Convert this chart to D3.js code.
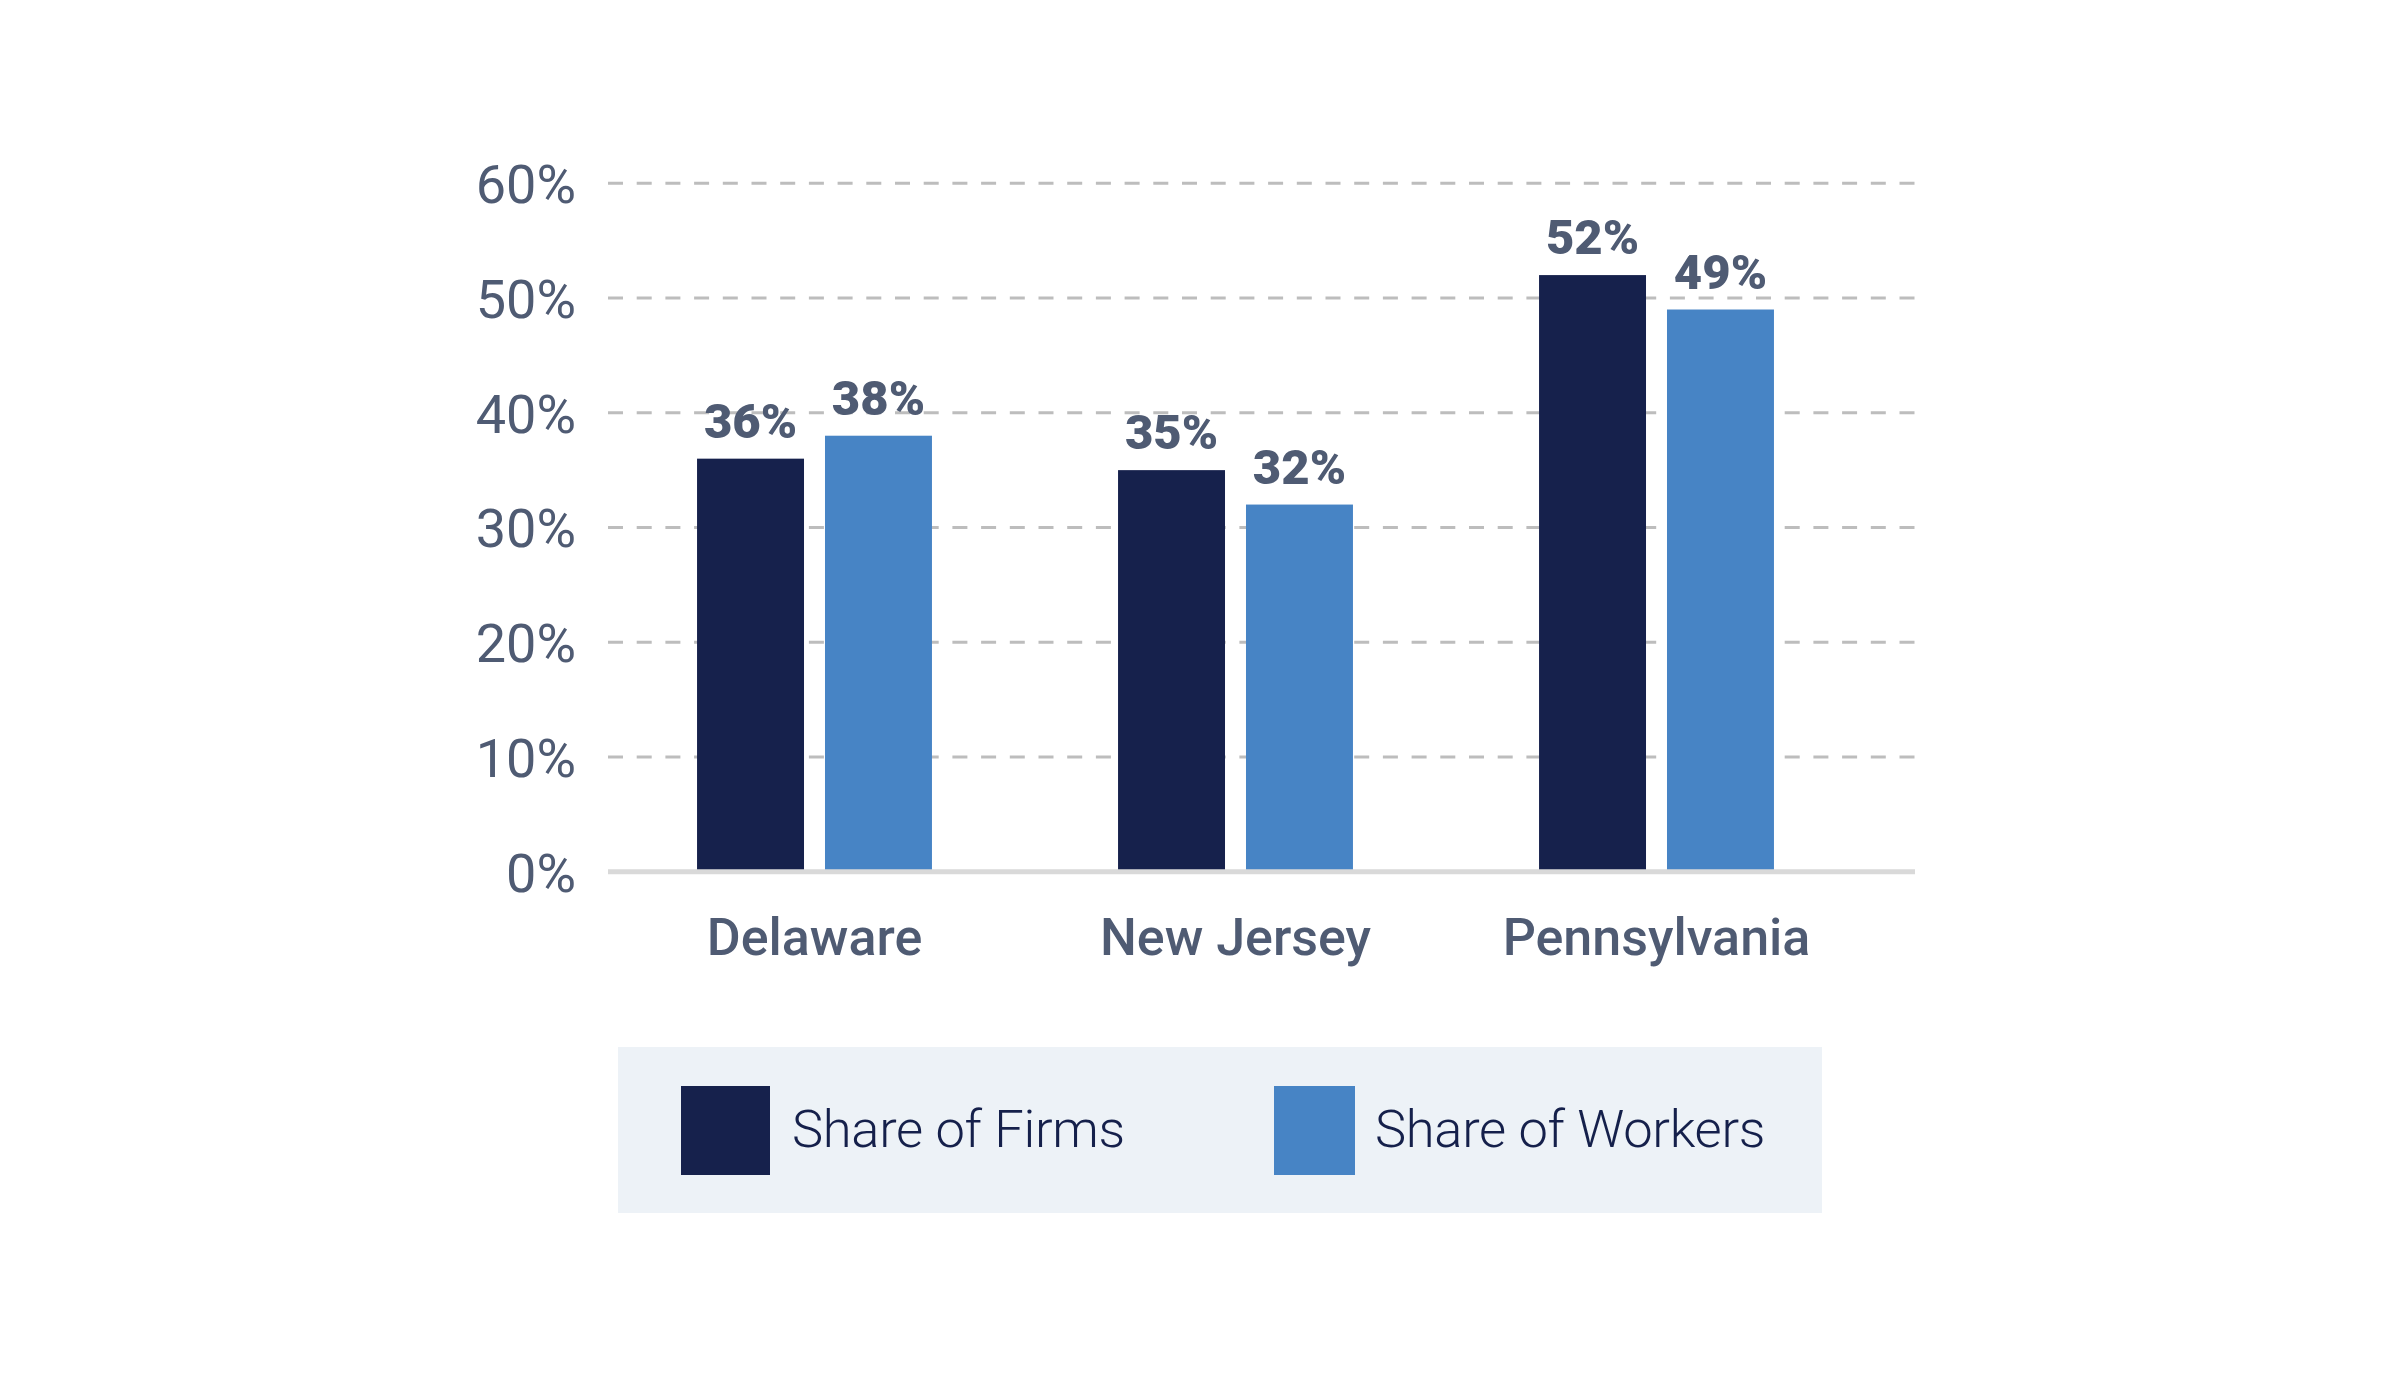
<!DOCTYPE html>
<html>
<head>
<meta charset="utf-8">
<script src="https://cdn.jsdelivr.net/npm/d3@7"></script>
<style>
  html, body { margin: 0; padding: 0; background: #ffffff; }
  svg { display: block; }
</style>
</head>
<body>
<svg id="chart" width="2390" height="1373"></svg>
<script>
// ---- data ----
const categories = ["Delaware", "New Jersey", "Pennsylvania"];
const seriesNames = ["Share of Firms", "Share of Workers"];
const shareOfFirms = [36, 35, 52];
const shareOfWorkers = [38, 32, 49];
const yTicks = [0, 10, 20, 30, 40, 50, 60];

// ---- layout ----
const W = 2390, H = 1373;
const plotLeft = 608, plotRight = 1915, plotTop = 183.3, plotBottom = 871.7;
const colors = ["#16214c", "#4784c5"];
const textColor = "#4f5b73";

const svg = d3.select("#chart");

const y = d3.scaleLinear().domain([0, 60]).range([plotBottom, plotTop]);
const x0 = d3.scaleBand().domain(categories).range([604, 1867])
  .paddingInner(0.442).paddingOuter(0.221);
const x1 = d3.scaleBand().domain(seriesNames).range([0, x0.bandwidth()])
  .paddingInner(0.164).paddingOuter(0);

// gridlines (dashed)
const grid = svg.append("g");
grid.selectAll("line").data(yTicks.filter(d => d > 0)).join("line")
  .attr("x1", plotLeft).attr("x2", plotRight)
  .attr("y1", d => y(d)).attr("y2", d => y(d))
  .attr("stroke", "#bdbdbd").attr("stroke-width", 3)
  .attr("stroke-dasharray", "15 13.7");

// y axis tick labels
const yAxis = d3.axisLeft(y).tickValues(yTicks).tickFormat(d => d + "%").tickSize(0).tickPadding(32);
const yg = svg.append("g").attr("transform", `translate(${plotLeft},0)`).call(yAxis);
yg.select(".domain").remove();
yg.selectAll("text")
  .attr("fill", textColor)
  .style("font-family", "Roboto, 'Open Sans', sans-serif")
  .style("font-size", "54px")
  .style("font-weight", 400)
  .attr("dy", "0.36em");

// bars
const rows = categories.map((c, i) => ({
  cat: c,
  vals: [
    { key: seriesNames[0], v: shareOfFirms[i] },
    { key: seriesNames[1], v: shareOfWorkers[i] }
  ]
}));

const groups = svg.append("g").selectAll("g").data(rows).join("g")
  .attr("transform", d => `translate(${x0(d.cat)},0)`);

groups.selectAll("rect").data(d => d.vals).join("rect")
  .attr("x", d => x1(d.key))
  .attr("width", x1.bandwidth())
  .attr("y", d => y(d.v))
  .attr("height", d => y(0) - y(d.v))
  .attr("fill", (d, i) => colors[i]);

// value labels
groups.selectAll("text.val").data(d => d.vals).join("text")
  .attr("class", "val")
  .attr("x", d => x1(d.key) + x1.bandwidth() / 2)
  .attr("y", d => y(d.v) - 21)
  .attr("text-anchor", "middle")
  .attr("fill", textColor)
  .style("font-family", "Roboto, sans-serif")
  .style("font-size", "49px")
  .style("font-weight", 900)
  .text(d => d.v + "%");

// x axis baseline
svg.append("line")
  .attr("x1", plotLeft).attr("x2", plotRight)
  .attr("y1", y(0)).attr("y2", y(0))
  .attr("stroke", "#d9d9d9").attr("stroke-width", 5);

// category labels
const xAxis = d3.axisBottom(x0).tickSize(0).tickPadding(0);
const xg = svg.append("g").attr("transform", `translate(0,${plotBottom})`).call(xAxis);
xg.select(".domain").remove();
xg.selectAll("text")
  .attr("y", 83).attr("dy", 0)
  .attr("fill", textColor)
  .style("font-family", "Roboto, sans-serif")
  .style("font-size", "52px")
  .style("font-weight", 500);

// legend
const legend = svg.append("g");
legend.append("rect")
  .attr("x", 618).attr("y", 1047).attr("width", 1204).attr("height", 166)
  .attr("fill", "#edf2f7");
const legendItems = [
  { name: seriesNames[0], color: colors[0], sx: 681, sw: 89, tx: 792 },
  { name: seriesNames[1], color: colors[1], sx: 1274, sw: 81, tx: 1375 }
];
const li = legend.selectAll("g").data(legendItems).join("g");
li.append("rect")
  .attr("x", d => d.sx).attr("y", 1086).attr("width", d => d.sw).attr("height", 89)
  .attr("fill", d => d.color);
li.append("text")
  .attr("x", d => d.tx).attr("y", 1147)
  .attr("fill", "#15204b")
  .style("font-family", "Roboto, sans-serif")
  .style("font-size", "52.5px")
  .style("font-weight", 300)
  .style("letter-spacing", "-0.3px")
  .text(d => d.name);
</script>
</body>
</html>
